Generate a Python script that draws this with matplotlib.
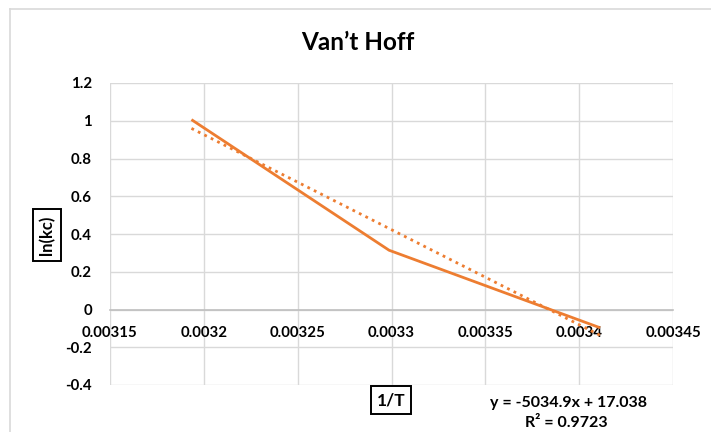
import matplotlib
matplotlib.use("Agg")
import matplotlib.pyplot as plt
from matplotlib.lines import Line2D

# data (1/T in 1/K, ln(kc))
inv_T = [0.0031934, 0.0032987, 0.0034112]
ln_kc = [1.006, 0.314, -0.097]

# Excel linear trendline as printed on the chart
slope = -5034.9
intercept = 17.038
r_squared = 0.9723

x_ticks = [0.00315, 0.0032, 0.00325, 0.0033, 0.00335, 0.0034, 0.00345]
y_ticks = [-0.4, -0.2, 0, 0.2, 0.4, 0.6, 0.8, 1, 1.2]

W, H = 711, 432
ORANGE = "#ED7D31"
GRID = "#d9d9d9"
FONT = "Lato"


def fx(px):
    return px / W


def fy(py):
    return 1 - py / H


fig = plt.figure(figsize=(W / 100, H / 100), dpi=100)
ax = fig.add_axes([fx(110), fy(385), fx(673) - fx(110), fy(83) - fy(385)])

# chart area border (top and left edge visible)
fig.add_artist(Line2D([fx(10), 1], [fy(9), fy(9)], color=GRID, lw=1.2))
fig.add_artist(Line2D([fx(10), fx(10)], [fy(9), 0], color=GRID, lw=1.2))

ax.plot(inv_T, ln_kc, color=ORANGE, lw=2.0, solid_capstyle="butt", zorder=3)

trend_x = [inv_T[0], inv_T[-1]]
trend_y = [slope * v + intercept for v in trend_x]
ax.plot(trend_x, trend_y, color=ORANGE, lw=2.0, linestyle=(0, (1, 1.6)), zorder=3)

ax.set_xlim(x_ticks[0], x_ticks[-1])
ax.set_ylim(y_ticks[0], y_ticks[-1])
ax.set_xticks(x_ticks)
ax.set_yticks(y_ticks)
ax.set_xticklabels([f"{v:g}" for v in x_ticks])
ax.set_yticklabels([f"{v:g}" for v in y_ticks])

for s in ["top", "right", "left"]:
    ax.spines[s].set_visible(False)
ax.spines["bottom"].set_position(("data", 0))
ax.spines["bottom"].set_color("#bfbfbf")
ax.spines["bottom"].set_linewidth(1.2)

ax.grid(True, color=GRID, lw=1.0)
ax.set_axisbelow(True)
ax.tick_params(axis="both", length=0)
ax.tick_params(axis="y", pad=13)
ax.tick_params(axis="x", pad=12)
for lab in ax.get_xticklabels() + ax.get_yticklabels():
    lab.set_fontfamily(FONT)
    lab.set_fontweight("bold")
    lab.set_fontsize(10.8)

fig.text(fx(358), fy(50), "Van\u2019t Hoff", ha="center", va="baseline",
         fontfamily=FONT, fontweight="bold", fontsize=17.5)

box = dict(boxstyle="square,pad=0.35", fc="white", ec="black", lw=1.4)
fig.text(fx(47), fy(235), "ln(kc)", rotation=90, ha="center", va="center",
         fontfamily=FONT, fontweight="bold", fontsize=12, bbox=box)
fig.text(fx(391), fy(400), "1/T", ha="center", va="center",
         fontfamily=FONT, fontweight="bold", fontsize=12.5, bbox=box)

fig.text(fx(568), fy(403), f"y = {slope}x + {intercept}", ha="center", va="center",
         fontfamily=FONT, fontweight="bold", fontsize=11.5)
fig.text(fx(566), fy(423), f"R\u00b2 = {r_squared}", ha="center", va="center",
         fontfamily=FONT, fontweight="bold", fontsize=11.5)

fig.savefig("out.png", dpi=100)
